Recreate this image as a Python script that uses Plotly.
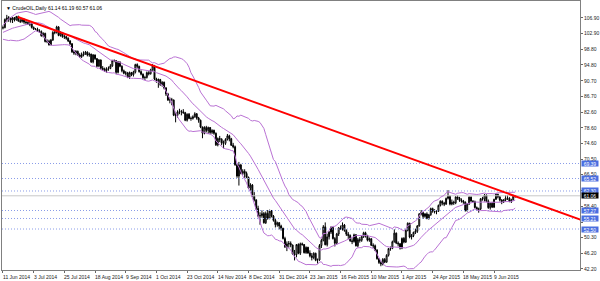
import plotly.graph_objects as go
import pandas as pd

# ---------------- data ----------------
tick_labels = ["11 Jun 2014", "3 Jul 2014", "25 Jul 2014", "18 Aug 2014", "9 Sep 2014",
               "1 Oct 2014", "23 Oct 2014", "14 Nov 2014", "8 Dec 2014", "31 Dec 2014",
               "23 Jan 2015", "16 Feb 2015", "10 Mar 2015", "1 Apr 2015", "24 Apr 2015",
               "18 May 2015", "9 Jun 2015"]
bars_per_label = 16

price_ticks = [106.90, 102.90, 98.80, 94.80, 90.70, 86.70, 82.60, 78.60, 74.60,
               70.50, 66.50, 62.40, 58.40, 54.30, 50.30, 46.20, 42.20]
# price tick labels that sit completely under a level label in the chart
hidden_ticks = [62.40, 54.30]

# closes of the 19 bars before the first visible bar (feed the Bollinger bands)
history_closes = [101.50, 102.02, 102.61, 102.44, 103.77, 103.72, 104.35, 104.30, 104.11,
                  102.72, 103.58, 102.71, 102.47, 102.66, 102.64, 102.48, 102.66, 104.41, 104.35]

opens = [104.35, 104.40, 106.53, 106.91, 106.90, 106.36, 106.97, 106.43, 107.26, 106.17,
         106.03, 106.50, 105.84, 105.74, 105.37, 105.34, 104.48, 104.06, 104.00, 103.53,
         103.40, 102.29, 102.93, 100.83, 100.91, 99.96, 101.20, 103.19, 103.13, 104.59,
         102.39, 103.12, 102.07, 102.09, 101.67, 100.97, 100.27, 98.17, 97.88, 98.29,
         97.38, 96.92, 97.34, 97.65, 98.08, 97.37, 97.59, 95.58, 97.35, 96.41,
         94.48, 96.07, 93.96, 93.65, 93.35, 93.86, 93.88, 94.55, 95.96, 95.90,
         92.88, 95.54, 94.45, 93.29, 92.66, 92.75, 91.67, 92.83, 92.27, 92.92,
         94.88, 94.42, 93.07, 92.41, 91.52, 91.56, 92.80, 92.53, 93.54, 94.57,
         91.16, 90.73, 91.01, 89.74, 90.34, 88.85, 87.31, 85.77, 85.82, 85.74,
         81.84, 81.78, 82.70, 82.75, 82.71, 82.49, 80.52, 82.09, 81.01, 81.00,
         81.42, 82.20, 81.12, 80.54, 78.78, 77.19, 78.68, 77.91, 78.65, 77.40,
         77.94, 77.18, 74.21, 75.82, 75.64, 74.61, 74.58, 75.58, 76.51, 75.78,
         74.09, 73.69, 69.05, 66.15, 69.00, 66.88, 67.38, 66.81, 65.84, 63.05,
         63.82, 60.94, 59.95, 57.81, 55.91, 55.93, 56.47, 54.11, 56.52, 55.26,
         57.12, 55.84, 54.73, 53.61, 54.12, 53.27, 52.69, 50.04, 47.93, 48.65,
         48.79, 48.36, 46.07, 45.89, 48.48, 46.25, 48.69, 48.50, 46.39, 47.78,
         46.31, 45.59, 45.15, 46.23, 44.45, 44.53, 48.24, 49.57, 53.05, 48.45,
         50.48, 51.69, 52.86, 50.02, 48.84, 51.21, 52.78, 52.60, 53.53, 52.14,
         51.16, 50.81, 49.45, 49.25, 50.99, 48.17, 49.76, 49.59, 50.52, 51.53,
         50.76, 49.61, 50.00, 48.29, 48.17, 47.05, 44.84, 43.88, 43.46, 44.66,
         43.96, 45.72, 47.45, 47.51, 49.21, 51.43, 48.87, 48.68, 47.60, 50.09,
         49.14, 52.14, 53.98, 50.42, 50.79, 51.64, 51.91, 53.29, 56.39, 56.71,
         55.74, 56.38, 55.26, 56.16, 57.74, 57.15, 56.99, 57.06, 58.58, 59.63,
         59.15, 58.93, 60.40, 60.93, 58.94, 59.39, 59.25, 60.75, 60.50, 59.88,
         59.69, 59.43, 57.26, 58.98, 60.72, 59.72, 59.60, 58.03, 57.51, 57.68,
         60.30, 60.20, 61.26, 59.64, 58.00, 59.13, 58.14, 60.14, 61.43, 60.77,
         59.96, 59.52, 59.97, 60.45, 60.45, 59.61, 60.01, 61.14]

highs = [104.95, 106.75, 107.70, 107.40, 107.05, 107.10, 107.15, 107.45, 107.50, 107.00,
         106.70, 106.75, 106.20, 106.00, 106.00, 105.60, 104.70, 104.30, 104.40, 104.00,
         103.70, 103.20, 103.10, 101.40, 101.30, 101.50, 103.50, 103.70, 104.90, 104.80,
         103.50, 103.30, 102.60, 102.30, 101.90, 101.20, 100.40, 98.60, 98.60, 98.50,
         97.80, 98.00, 98.30, 98.40, 98.30, 98.00, 97.70, 97.60, 97.50, 96.60,
         96.30, 96.20, 94.50, 94.10, 94.20, 94.40, 95.00, 96.10, 96.20, 96.00,
         95.80, 95.70, 94.70, 93.60, 93.20, 93.00, 93.10, 93.00, 93.30, 95.10,
         95.20, 94.60, 93.40, 92.60, 92.00, 93.10, 93.20, 93.80, 95.00, 94.80,
         91.50, 91.30, 91.20, 90.60, 90.50, 89.10, 87.60, 86.40, 86.30, 85.90,
         82.40, 83.10, 83.50, 83.20, 83.40, 82.70, 82.30, 82.40, 81.50, 81.80,
         82.60, 82.40, 81.40, 80.70, 78.90, 79.00, 79.10, 78.90, 78.80, 78.20,
         78.10, 77.40, 76.10, 76.50, 75.90, 75.30, 75.90, 77.00, 76.80, 76.00,
         74.70, 74.00, 69.40, 69.80, 69.30, 67.90, 67.90, 67.30, 66.00, 64.30,
         64.10, 62.00, 60.20, 58.50, 56.80, 57.30, 56.90, 57.00, 57.40, 57.50,
         57.40, 56.10, 55.20, 54.40, 54.30, 53.60, 52.80, 50.50, 49.30, 49.40,
         49.30, 48.50, 47.10, 48.60, 48.80, 49.00, 49.00, 48.60, 48.00, 47.90,
         47.00, 46.30, 46.50, 46.40, 44.90, 48.60, 50.00, 53.50, 54.20, 51.30,
         52.00, 53.20, 53.00, 50.40, 51.50, 53.00, 53.40, 54.20, 53.80, 52.40,
         51.70, 51.10, 50.10, 51.30, 51.20, 50.20, 50.40, 50.90, 51.80, 51.80,
         51.00, 50.30, 50.10, 48.80, 48.50, 47.30, 45.00, 44.20, 45.00, 45.00,
         46.00, 47.60, 48.00, 49.50, 52.40, 51.60, 49.30, 48.90, 50.30, 50.40,
         52.40, 54.20, 54.10, 51.20, 51.80, 52.60, 53.50, 56.60, 57.40, 56.90,
         56.60, 56.80, 56.40, 58.00, 58.00, 57.60, 57.30, 58.80, 59.90, 59.90,
         59.50, 60.60, 62.50, 61.10, 60.10, 59.80, 61.00, 61.20, 60.80, 60.40,
         60.00, 59.60, 59.20, 60.90, 60.90, 59.90, 59.80, 58.30, 58.00, 60.50,
         60.80, 61.50, 61.40, 60.10, 59.30, 59.50, 60.30, 61.70, 61.60, 61.00,
         60.20, 60.20, 61.20, 61.20, 60.70, 60.30, 61.30, 61.19]

lows = [103.95, 104.25, 105.80, 105.90, 105.70, 105.60, 106.00, 106.20, 105.90, 105.60,
        105.70, 105.40, 105.20, 105.10, 104.80, 104.20, 103.80, 103.80, 103.30, 103.10,
        102.10, 101.90, 100.60, 100.40, 99.80, 99.90, 101.00, 102.70, 102.90, 102.20,
        102.10, 101.80, 101.50, 101.30, 100.70, 99.90, 97.90, 97.40, 97.30, 97.10,
        96.60, 96.60, 97.00, 97.40, 97.00, 96.90, 95.30, 95.20, 96.10, 94.20,
        94.30, 93.60, 93.40, 93.00, 92.80, 93.30, 93.70, 94.30, 95.50, 92.50,
        92.60, 94.20, 92.90, 92.40, 92.10, 91.40, 91.20, 91.90, 91.80, 92.60,
        93.90, 92.80, 92.10, 91.20, 90.90, 91.30, 92.10, 92.30, 93.30, 90.90,
        90.20, 88.90, 89.40, 89.20, 88.50, 86.80, 85.50, 84.90, 84.40, 81.60,
        80.00, 81.20, 82.10, 81.80, 82.20, 80.30, 80.20, 80.80, 80.40, 80.70,
        81.20, 80.70, 79.90, 78.50, 75.90, 76.90, 77.40, 77.00, 76.90, 77.00,
        76.80, 73.90, 73.80, 74.90, 74.10, 73.30, 74.20, 75.30, 75.10, 73.90,
        73.30, 68.80, 65.70, 63.70, 66.60, 66.40, 65.70, 65.60, 62.80, 62.40,
        60.70, 59.60, 57.40, 55.50, 53.60, 55.40, 53.90, 53.80, 54.90, 55.00,
        55.50, 54.40, 52.90, 53.10, 52.40, 52.10, 49.80, 47.60, 46.80, 47.70,
        47.80, 45.90, 44.40, 45.20, 46.00, 45.80, 48.20, 46.20, 46.10, 46.10,
        45.20, 44.40, 44.70, 44.20, 43.60, 44.30, 47.60, 49.30, 48.30, 48.00,
        49.80, 51.20, 49.80, 48.00, 48.50, 50.70, 52.30, 52.10, 51.80, 50.70,
        49.90, 49.20, 48.60, 49.00, 48.00, 47.80, 49.00, 49.20, 50.20, 50.30,
        49.30, 49.20, 48.10, 47.60, 46.80, 44.60, 43.50, 42.90, 43.10, 43.70,
        43.80, 45.40, 46.90, 47.30, 49.00, 48.60, 48.00, 47.20, 47.30, 48.80,
        48.90, 51.90, 50.10, 49.80, 50.40, 51.20, 51.50, 53.10, 56.00, 55.10,
        55.40, 55.00, 54.90, 55.90, 56.70, 56.50, 56.30, 56.90, 58.30, 58.60,
        58.40, 58.70, 60.10, 58.60, 58.60, 58.70, 58.90, 60.00, 59.50, 59.30,
        59.00, 57.00, 57.00, 58.70, 59.50, 59.30, 57.80, 57.20, 56.70, 57.40,
        59.80, 59.60, 59.40, 57.70, 57.50, 57.90, 57.90, 60.00, 60.40, 59.60,
        58.90, 59.20, 59.60, 60.00, 59.40, 59.20, 59.80, 60.57]

closes = [104.40, 106.53, 106.91, 106.90, 106.36, 106.97, 106.43, 107.26, 106.17, 106.03,
          106.50, 105.84, 105.74, 105.37, 105.34, 104.48, 104.06, 104.00, 103.53, 103.40,
          102.29, 102.93, 100.83, 100.91, 99.96, 101.20, 103.19, 103.13, 104.59, 102.39,
          103.12, 102.07, 102.09, 101.67, 100.97, 100.27, 98.17, 97.88, 98.29, 97.38,
          96.92, 97.34, 97.65, 98.08, 97.37, 97.59, 95.58, 97.35, 96.41, 94.48,
          96.07, 93.96, 93.65, 93.35, 93.86, 93.88, 94.55, 95.96, 95.90, 92.88,
          95.54, 94.45, 93.29, 92.66, 92.75, 91.67, 92.83, 92.27, 92.92, 94.88,
          94.42, 93.07, 92.41, 91.52, 91.56, 92.80, 92.53, 93.54, 94.57, 91.16,
          90.73, 91.01, 89.74, 90.34, 88.85, 87.31, 85.77, 85.82, 85.74, 81.84,
          81.78, 82.70, 82.75, 82.71, 82.49, 80.52, 82.09, 81.01, 81.00, 81.42,
          82.20, 81.12, 80.54, 78.78, 77.19, 78.68, 77.91, 78.65, 77.40, 77.94,
          77.18, 74.21, 75.82, 75.64, 74.61, 74.58, 75.58, 76.51, 75.78, 74.09,
          73.69, 69.05, 66.15, 69.00, 66.88, 67.38, 66.81, 65.84, 63.05, 63.82,
          60.94, 59.95, 57.81, 55.91, 55.93, 56.47, 54.11, 56.52, 55.26, 57.12,
          55.84, 54.73, 53.61, 54.12, 53.27, 52.69, 50.04, 47.93, 48.65, 48.79,
          48.36, 46.07, 45.89, 48.48, 46.25, 48.69, 48.50, 46.39, 47.78, 46.31,
          45.59, 45.15, 46.23, 44.45, 44.53, 48.24, 49.57, 53.05, 48.45, 50.48,
          51.69, 52.86, 50.02, 48.84, 51.21, 52.78, 52.60, 53.53, 52.14, 51.16,
          50.81, 49.45, 49.25, 50.99, 48.17, 49.76, 49.59, 50.52, 51.53, 50.76,
          49.61, 50.00, 48.29, 48.17, 47.05, 44.84, 43.88, 43.46, 44.66, 43.96,
          45.72, 47.45, 47.51, 49.21, 51.43, 48.87, 48.68, 47.60, 50.09, 49.14,
          52.14, 53.98, 50.42, 50.79, 51.64, 51.91, 53.29, 56.39, 56.71, 55.74,
          56.38, 55.26, 56.16, 57.74, 57.15, 56.99, 57.06, 58.58, 59.63, 59.15,
          58.93, 60.40, 60.93, 58.94, 59.39, 59.25, 60.75, 60.50, 59.88, 59.69,
          59.43, 57.26, 58.98, 60.72, 59.72, 59.60, 58.03, 57.51, 57.68, 60.30,
          60.20, 61.26, 59.64, 58.00, 59.13, 58.14, 60.14, 61.43, 60.77, 59.96,
          59.52, 59.97, 60.45, 60.45, 59.61, 60.01, 61.01, 61.06]

# horizontal support / resistance levels and their labels
level_prices = [69.39, 65.52, 62.30, 57.27, 55.21, 52.50]
level_labels = ["69.39", "65.52", "62.30", "57.27", "55.21", "52.50"]

# trend line anchors (bar index, price)
trend_bars = [7.8, 312.0]
trend_prices = [107.16, 52.95]

last_price = 61.06
title_text = "\u25BC CrudeOIL,Daily 61.14 61.19 60.57 61.06"

# ---------------- derived ----------------
n = len(closes)
x = list(range(n))
all_c = pd.Series(history_closes + closes)
mid = all_c.rolling(20).mean().iloc[len(history_closes):].tolist()
sd = all_c.rolling(20).std(ddof=0).iloc[len(history_closes):].tolist()
upper = [m + 2 * s for m, s in zip(mid, sd)]
lower = [m - 2 * s for m, s in zip(mid, sd)]
label_bars = [i * bars_per_label for i in range(len(tick_labels))]
tick_text = ["" if p in hidden_ticks else f"{p:.2f}" for p in price_ticks]

FONT = "Liberation Sans, Arial, sans-serif"
BB_COLOR = "#BA72D4"
LEVEL_COLOR = "#8A9CE8"
LABEL_BG = "#4A6EE0"

fig = go.Figure()

for lvl in level_prices:
    fig.add_trace(go.Scatter(x=[-0.5, 300.8], y=[lvl, lvl], mode="lines",
                             line=dict(color=LEVEL_COLOR, width=1, dash="1px,2px"),
                             hoverinfo="skip", showlegend=False))

fig.add_trace(go.Scatter(x=[-0.5, 300.8], y=[last_price, last_price], mode="lines",
                         line=dict(color="#C8C8C8", width=1),
                         hoverinfo="skip", showlegend=False))

for band in (upper, mid, lower):
    fig.add_trace(go.Scatter(x=x, y=band, mode="lines",
                             line=dict(color=BB_COLOR, width=1),
                             hoverinfo="skip", showlegend=False))

fig.add_trace(go.Candlestick(
    x=x, open=opens, high=highs, low=lows, close=closes,
    increasing=dict(line=dict(color="black", width=1), fillcolor="white"),
    decreasing=dict(line=dict(color="black", width=1), fillcolor="black"),
    whiskerwidth=0, showlegend=False))

fig.add_trace(go.Scatter(x=trend_bars, y=trend_prices, mode="lines",
                         line=dict(color="#FF0000", width=2),
                         hoverinfo="skip", showlegend=False))

annotations = [dict(text=title_text, xref="paper", yref="paper", x=0, y=1,
                    xanchor="left", yanchor="top", xshift=2, yshift=-2,
                    showarrow=False, font=dict(family=FONT, size=5, color="black"))]
for b, lab in zip(label_bars, tick_labels):
    annotations.append(dict(text=lab, xref="x", yref="paper", x=b, y=0,
                            xanchor="left", yanchor="top", xshift=-2, yshift=-2,
                            showarrow=False,
                            font=dict(family=FONT, size=5, color="#222")))
for lvl, lab in zip(level_prices, level_labels):
    annotations.append(dict(text=lab, xref="paper", yref="y", x=1, y=lvl,
                            xanchor="left", yanchor="middle", xshift=1,
                            showarrow=False, bgcolor=LABEL_BG, width=16, height=5,
                            borderpad=0, font=dict(family=FONT, size=5, color="white")))
annotations.append(dict(text=f"{last_price:.2f}", xref="paper", yref="y", x=1, y=last_price,
                        xanchor="left", yanchor="middle", xshift=1,
                        showarrow=False, bgcolor="black", width=16, height=5,
                        borderpad=0, font=dict(family=FONT, size=5, color="white")))

fig.update_layout(
    width=600, height=281,
    margin=dict(l=2, r=20, t=1, b=11, autoexpand=False),
    paper_bgcolor="white", plot_bgcolor="white",
    showlegend=False,
    annotations=annotations,
    xaxis=dict(range=[-0.5, 300.8], tickmode="array", automargin=False,
               tickvals=label_bars, showticklabels=False,
               ticks="outside", ticklen=2, tickcolor="#666",
               showgrid=False, zeroline=False, showline=True, linecolor="#808080",
               linewidth=1, mirror=True, rangeslider=dict(visible=False),
               fixedrange=True),
    yaxis=dict(range=[41.93, 111.28], side="right", tickmode="array", automargin=False,
               tickvals=price_ticks, ticktext=tick_text,
               ticks="outside", ticklen=2, tickcolor="#666",
               tickfont=dict(family=FONT, size=5, color="#222"),
               showgrid=False, zeroline=False, showline=True, linecolor="#808080",
               linewidth=1, mirror=True, fixedrange=True),
)

fig.write_html("out.html")
